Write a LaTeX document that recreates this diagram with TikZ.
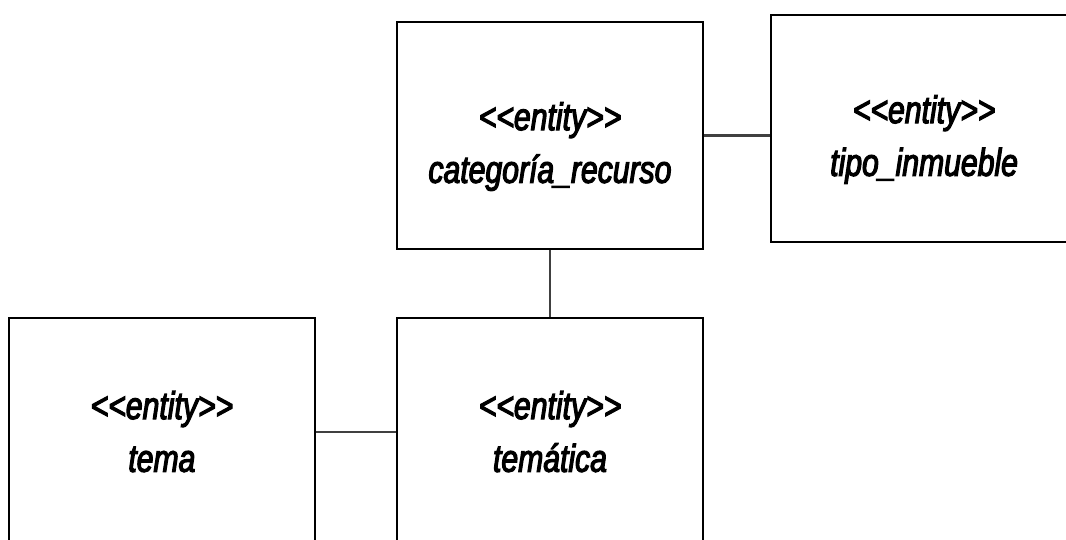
\documentclass[tikz,border=0pt]{standalone}
\usepackage{fontspec}
\newfontfamily\umlfont{Liberation Sans}[FakeStretch=0.78, FakeBold=3]
\usetikzlibrary{positioning}

% taller first line, pushes the text a bit lower in its box
\newcommand\lowerline{\rule{0pt}{1.0cm}}

\begin{document}
\begin{tikzpicture}[
        node distance=1.34cm,
        entity/.style={draw, line width=1.2pt, minimum width=6.12cm, minimum height=4.54cm,
            inner sep=0pt, align=center, font=\umlfont\itshape\fontsize{22}{30}\selectfont},
        link/.style={line width=1.2pt, draw=black!75}
    ]
    \clip (0,0) rectangle (21.32,-10.8);

    % Nodes
    \node [entity](cat) at (11.0,-2.71) {\lowerline<{}<entity>{}>\\categoría\_recurso};
    \node [entity, yshift=0.14cm](tipo) [right=1.32cm of cat] {\lowerline<{}<entity>{}>\\tipo\_inmueble};
    \node [entity](tematica) [below=of cat] {<{}<entity>{}>\\temática};
    \node [entity](tema) [left=1.6cm of tematica] {<{}<entity>{}>\\tema};

    % Links
    \draw[link] (cat.east) -- (tipo.west |- cat.east);
    \draw[link] (cat) -- (tematica);
    \draw[link] (tema) -- (tematica);

\end{tikzpicture}
\end{document}
